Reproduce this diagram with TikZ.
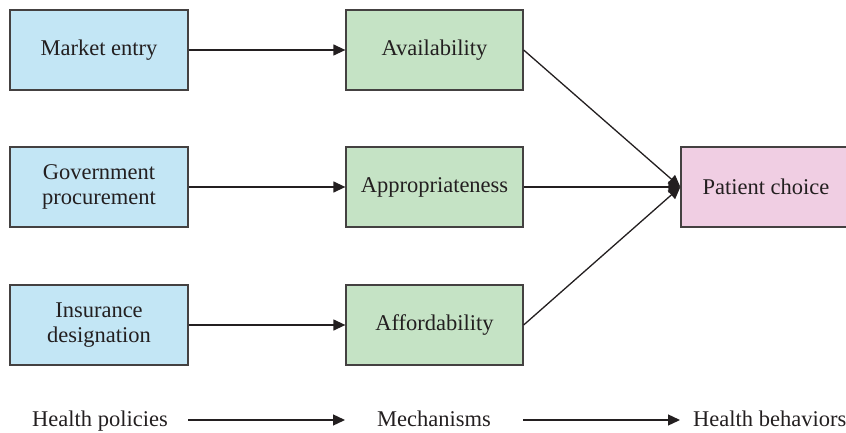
\documentclass[tikz,border=0pt]{standalone}
\usepackage{fontspec}
\setmainfont{Liberation Serif}
\usetikzlibrary{arrows.meta}
\definecolor{bluef}{RGB}{195,230,245}
\definecolor{greenf}{RGB}{197,227,197}
\definecolor{pinkf}{RGB}{240,206,227}
\definecolor{ink}{RGB}{35,31,32}
\begin{document}
\begin{tikzpicture}[x=1pt,y=-1pt,
  box/.style={draw=ink!85,line width=1.3pt,minimum width=178pt,minimum height=80pt,inner sep=0pt,align=center,text=ink,font=\fontsize{22.5}{25}\selectfont},
  pol/.style={box,fill=bluef},
  mech/.style={box,fill=greenf,minimum width=177pt},
  outc/.style={box,fill=pinkf,minimum width=170pt},
  lab/.style={text=ink,font=\fontsize{22.5}{25}\selectfont,inner sep=0pt,anchor=base west},
  conn/.style={draw=ink,line width=1.3pt,-{Triangle[length=12pt,width=11pt]}}]
\useasboundingbox (0,0) rectangle (846,433);
\node[pol] (me) at (99,50) {Market entry};
\node[pol] (gp) at (99,187) {Government\\procurement};
\node[pol] (id) at (99,325) {Insurance\\designation};
\node[mech] (av) at (434.5,50) {Availability};
\node[mech] (ap) at (434.5,187) {Appropriateness};
\node[mech] (af) at (434.5,325) {Affordability};
\node[outc] (pc) at (766,187) {Patient choice};
\draw[conn] (me) -- (av);
\draw[conn] (gp) -- (ap);
\draw[conn] (id) -- (af);
\draw[conn] (av.east) -- (pc.west);
\draw[conn] (ap.east) -- (pc.west);
\draw[conn] (af.east) -- (pc.west);
\node[lab] (hp) at (32,426) {Health policies};
\node[lab] (mc) at (377,426) {Mechanisms};
\node[lab] (hb) at (693,426) {Health behaviors};
\coordinate (a1s) at (188,420);
\coordinate (a1e) at (345,420);
\coordinate (a2s) at (523,420);
\coordinate (a2e) at (680,420);
\draw[conn] (a1s) -- (a1e);
\draw[conn] (a2s) -- (a2e);
\end{tikzpicture}
\end{document}
